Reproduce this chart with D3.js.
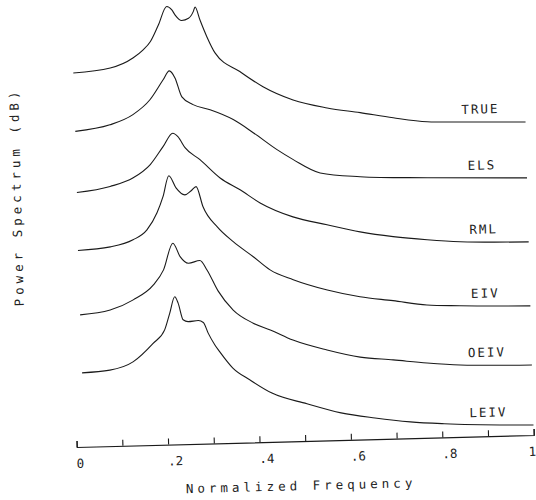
<!DOCTYPE html>
<html>
<head>
<meta charset="utf-8">
<script src="https://cdn.jsdelivr.net/npm/d3@7"></script>
<style>
  body { margin: 0; background: #fff; }
  svg { display: block; background: #fff; }
  text { font-family: "DejaVu Sans Mono", monospace; fill: #222; }
</style>
</head>
<body>
<svg id="chart" width="536" height="500"></svg>
<script>
// Methods, stacked from top to bottom
const methods = ['TRUE', 'ELS', 'RML', 'EIV', 'OEIV', 'LEIV'];
// vertical stacking offset of each spectrum (dB)
const offsetsDb = [78.3, 64.3, 48.3, 32.3, 17.5, 2.5];

// [normalized frequency, power (dB, relative to the value at f = 1)]
const spectrumTRUE = [[0.014, 15.2], [0.095, 16.2], [0.146, 18.6], [0.168, 20.5], [0.184, 22.5], [0.203, 26.7], [0.222, 31.2], [0.233, 30.3], [0.240, 29.0], [0.254, 27.6], [0.269, 28.1], [0.280, 29.8], [0.284, 30.9], [0.294, 27.6], [0.308, 23.4], [0.325, 19.3], [0.379, 14.4], [0.428, 10.5], [0.493, 7.0], [0.567, 4.8], [0.639, 3.4], [0.711, 1.9], [0.785, 0.7], [0.857, 0.4], [1.0, 0]];
const spectrumELS = [[0.015, 14.6], [0.091, 16.0], [0.142, 18.4], [0.180, 22.0], [0.210, 26.9], [0.224, 29.1], [0.236, 27.3], [0.250, 22.5], [0.274, 20.5], [0.311, 19.1], [0.361, 16.5], [0.404, 13.1], [0.455, 8.7], [0.490, 6.1], [0.548, 2.6], [0.635, 1.4], [0.782, 0.7], [1.0, 0]];
const spectrumRML = [[0.015, 15.3], [0.088, 16.6], [0.139, 18.6], [0.177, 21.8], [0.206, 26.2], [0.228, 29.5], [0.239, 28.6], [0.254, 25.8], [0.286, 22.7], [0.329, 18.0], [0.372, 14.9], [0.415, 11.5], [0.486, 7.8], [0.560, 5.6], [0.632, 3.6], [0.704, 2.2], [0.778, 1.2], [0.850, 0.5], [1.0, 0]];
const spectrumEIV = [[0.014, 16.8], [0.085, 17.5], [0.135, 19.1], [0.166, 21.5], [0.189, 25.7], [0.203, 29.7], [0.217, 34.9], [0.232, 31.8], [0.251, 30.0], [0.265, 31.0], [0.276, 32.0], [0.290, 26.9], [0.320, 21.8], [0.354, 18.0], [0.397, 14.1], [0.433, 10.7], [0.483, 8.1], [0.557, 5.3], [0.628, 3.4], [0.700, 2.2], [0.774, 0.9], [0.846, 0.5], [1.0, 0]];
const spectrumOEIV = [[0.015, 15.5], [0.081, 16.5], [0.132, 18.9], [0.177, 22.5], [0.200, 26.2], [0.222, 32.8], [0.237, 29.4], [0.255, 27.7], [0.280, 28.3], [0.295, 25.9], [0.318, 20.6], [0.350, 15.7], [0.393, 12.3], [0.430, 10.5], [0.479, 7.8], [0.553, 5.1], [0.625, 3.1], [0.697, 2.2], [0.771, 1.2], [0.843, 0.5], [1.0, 0]];
const spectrumLEIV = [[0.016, 16.0], [0.077, 16.5], [0.128, 18.4], [0.173, 22.9], [0.199, 26.2], [0.211, 30.3], [0.223, 34.4], [0.230, 32.8], [0.240, 28.6], [0.251, 28.1], [0.273, 28.3], [0.284, 27.8], [0.294, 25.1], [0.308, 22.1], [0.318, 20.4], [0.346, 16.2], [0.383, 13.1], [0.430, 9.7], [0.506, 6.8], [0.580, 4.3], [0.654, 2.8], [0.731, 1.6], [0.805, 0.9], [1.0, 0]];
const spectra = [spectrumTRUE, spectrumELS, spectrumRML, spectrumEIV, spectrumOEIV, spectrumLEIV];

// x axis ticks
const minorTicks = [0, 0.1, 0.2, 0.3, 0.4, 0.5, 0.6, 0.7, 0.8, 0.9, 1];
const labelTicks = [0, 0.2, 0.4, 0.6, 0.8, 1];
const tickLabels = ['0', '.2', '.4', '.6', '.8', '1'];

const svg = d3.select('#chart');
const plotLeft = 76.7, plotRight = 533.9, plotBottom = 447, plotTop = 7;

// the scanned plot sits slightly tilted
const plot = svg.append('g')
    .attr('transform', `rotate(-1.5, ${plotLeft}, ${plotBottom})`);

const x = d3.scaleLinear().domain([0, 1]).range([plotLeft, plotRight]);
const y = d3.scaleLinear().domain([0, 110]).range([plotBottom, plotTop]);

// spectra
spectra.forEach((pts, i) => {
    const line = d3.line()
        .x(d => x(d[0]))
        .y(d => y(d[1] + offsetsDb[i]))
        .curve(d3.curveMonotoneX);
    plot.append('path')
        .datum(pts)
        .attr('d', line)
        .attr('fill', 'none')
        .attr('stroke', '#1a1a1a')
        .attr('stroke-width', 1.1);
});

// method labels above the tails
plot.selectAll('.method')
    .data(methods)
    .enter().append('text')
    .attr('class', 'method')
    .attr('x', x(0.9) + 1)
    .attr('y', (d, i) => y(offsetsDb[i]) - 9.5)
    .attr('text-anchor', 'middle')
    .attr('font-size', 12.5)
    .style('letter-spacing', '2px')
    .text(d => d);

// x axis
const xAxis = d3.axisBottom(x)
    .tickValues(minorTicks)
    .tickSizeInner(-6)
    .tickSizeOuter(-6)
    .tickPadding(12)
    .tickFormat(d => {
        const k = labelTicks.findIndex(t => Math.abs(t - d) < 1e-9);
        return k >= 0 ? tickLabels[k] : '';
    });

const axis = plot.append('g')
    .attr('transform', `translate(0,${plotBottom})`)
    .call(xAxis)
    .attr('font-family', null)
    .attr('font-size', 12.5);

axis.select('.domain').attr('stroke', '#1a1a1a').attr('stroke-width', 1.2);
axis.selectAll('.tick line').attr('stroke', '#1a1a1a').attr('stroke-width', 1.1);
axis.selectAll('.tick text')
    .attr('text-anchor', 'start')
    .attr('dx', d => d === 1 ? -6 : -1)   // keep the last label inside the page
    .attr('fill', '#222');

// axis titles
plot.append('text')
    .attr('x', 300)
    .attr('y', 496)
    .attr('text-anchor', 'middle')
    .attr('font-size', 12.5)
    .style('letter-spacing', '4px')
    .text('Normalized Frequency');

plot.append('text')
    .attr('transform', 'translate(27.5,195.5) rotate(-90)')
    .attr('text-anchor', 'middle')
    .attr('font-size', 12.5)
    .style('letter-spacing', '4px')
    .text('Power Spectrum (dB)');
</script>
</body>
</html>
